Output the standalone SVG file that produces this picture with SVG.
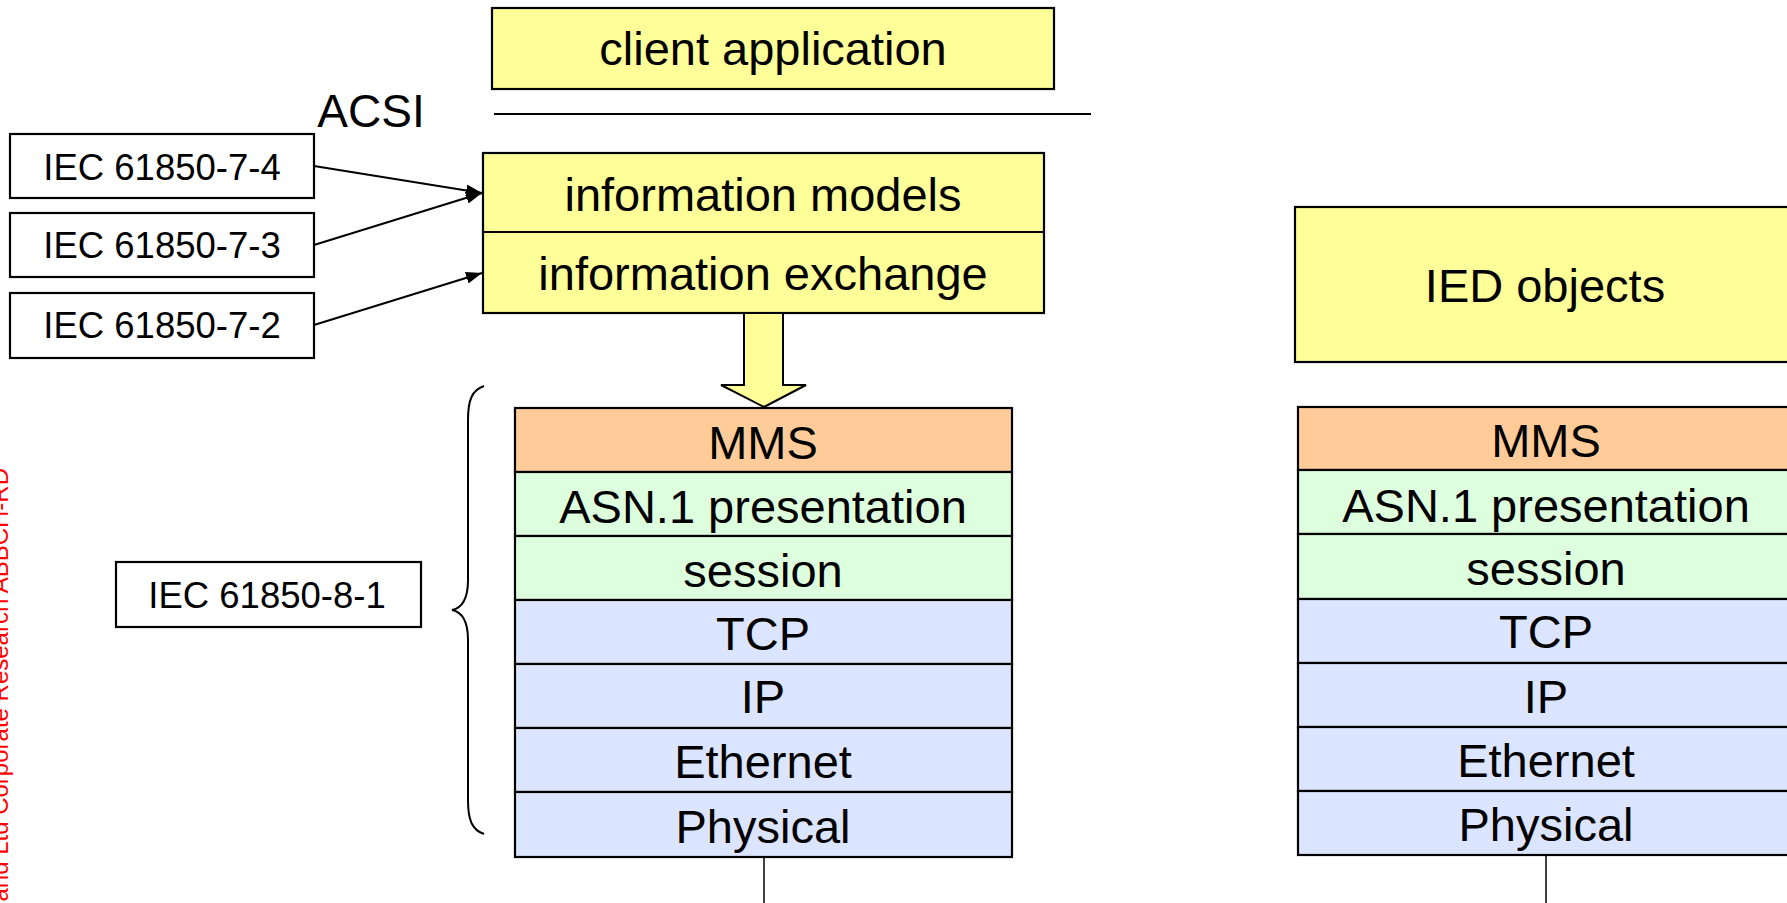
<svg xmlns="http://www.w3.org/2000/svg" width="1787" height="903" viewBox="0 0 1787 903">
<style>
  .t{font-family:"Liberation Sans",Arial,sans-serif;fill:#000;text-anchor:middle}
  .big{font-size:47px}
  .sm{font-size:36.5px}
  .box{stroke:#000;stroke-width:2.2}
  .y{fill:#FFFF99}
  .o{fill:#FFCC99}
  .g{fill:#DDFFDD}
  .b{fill:#DCE5FF}
  .w{fill:#fff}
  .ln{stroke:#000;stroke-width:2;fill:none}
</style>
<defs>
  <marker id="ah" viewBox="0 0 16 12" refX="16" refY="6" markerWidth="16" markerHeight="12" markerUnits="userSpaceOnUse" orient="auto">
    <path d="M0,0 L16,6 L0,12 Z" fill="#000"/>
  </marker>
</defs>
<rect width="1787" height="903" fill="#fff"/>

<text x="8" y="468" transform="rotate(-90 8 468)" style="font-family:'Liberation Sans',Arial,sans-serif;font-size:24px;fill:#FF0000;text-anchor:end">and Ltd Corporate Research ABBCH-RD</text>

<g id="client">
  <rect class="box y" x="492" y="8" width="562" height="81"/>
  <text class="t big" x="773" y="65">client application</text>
</g>
<g id="acsi">
  <line class="ln" x1="494" y1="114" x2="1091" y2="114"/>
  <text class="t" x="371" y="127" font-size="46">ACSI</text>
</g>
<g id="info">
  <rect class="box y" x="483" y="153" width="561" height="160"/>
  <line class="ln" x1="483" y1="232" x2="1044" y2="232"/>
  <text class="t big" x="763" y="211">information models</text>
  <text class="t big" x="763" y="290">information exchange</text>
</g>
<g id="iec74">
  <rect class="box w" x="10" y="134" width="304" height="64"/>
  <text class="t sm" x="162" y="180">IEC 61850-7-4</text>
</g>
<g id="iec73">
  <rect class="box w" x="10" y="213" width="304" height="64"/>
  <text class="t sm" x="162" y="258">IEC 61850-7-3</text>
</g>
<g id="iec72">
  <rect class="box w" x="10" y="293" width="304" height="65"/>
  <text class="t sm" x="162" y="338">IEC 61850-7-2</text>
</g>
<g id="iec81">
  <rect class="box w" x="116" y="562" width="305" height="65"/>
  <text class="t sm" x="267" y="608">IEC 61850-8-1</text>
</g>

<g id="connectors">
  <line class="ln" x1="314" y1="166" x2="482" y2="193" marker-end="url(#ah)"/>
  <line class="ln" x1="314" y1="245" x2="482" y2="193" marker-end="url(#ah)"/>
  <line class="ln" x1="314" y1="325" x2="482" y2="273" marker-end="url(#ah)"/>
  <polygon points="744,313 783,313 783,385 806,385 764,407 721,385 744,385" fill="#FFFF99" stroke="#000" stroke-width="2"/>
  <path class="ln" d="M484,386 C472,390 468,400 468,420 L468,580 C468,600 462,608 452,610 C462,612 468,620 468,640 L468,800 C468,820 472,830 484,834"/>
  <line x1="764" y1="857" x2="764" y2="903" stroke="#000" stroke-width="1.5"/>
  <line x1="1546" y1="855" x2="1546" y2="903" stroke="#000" stroke-width="1.5"/>
</g>

<g id="stack-client">
  <rect class="box o" x="515" y="408" width="497" height="64"/>
  <rect class="box g" x="515" y="472" width="497" height="64"/>
  <rect class="box g" x="515" y="536" width="497" height="64"/>
  <rect class="box b" x="515" y="600" width="497" height="64"/>
  <rect class="box b" x="515" y="664" width="497" height="64"/>
  <rect class="box b" x="515" y="728" width="497" height="64"/>
  <rect class="box b" x="515" y="792" width="497" height="65"/>
  <text class="t big" x="763" y="459">MMS</text>
  <text class="t big" x="763" y="523">ASN.1 presentation</text>
  <text class="t big" x="763" y="587">session</text>
  <text class="t big" x="763" y="650">TCP</text>
  <text class="t big" x="763" y="713">IP</text>
  <text class="t big" x="763" y="778">Ethernet</text>
  <text class="t big" x="763" y="843">Physical</text>
</g>

<g id="ied">
  <rect class="box y" x="1295" y="207" width="500" height="155"/>
  <text class="t big" x="1545" y="302">IED objects</text>
</g>

<g id="stack-ied">
  <rect class="box o" x="1298" y="407" width="500" height="63"/>
  <rect class="box g" x="1298" y="470" width="500" height="64"/>
  <rect class="box g" x="1298" y="534" width="500" height="65"/>
  <rect class="box b" x="1298" y="599" width="500" height="64"/>
  <rect class="box b" x="1298" y="663" width="500" height="64"/>
  <rect class="box b" x="1298" y="727" width="500" height="64"/>
  <rect class="box b" x="1298" y="791" width="500" height="64"/>
  <text class="t big" x="1546" y="457">MMS</text>
  <text class="t big" x="1546" y="522">ASN.1 presentation</text>
  <text class="t big" x="1546" y="585">session</text>
  <text class="t big" x="1546" y="648">TCP</text>
  <text class="t big" x="1546" y="713">IP</text>
  <text class="t big" x="1546" y="777">Ethernet</text>
  <text class="t big" x="1546" y="841">Physical</text>
</g>
</svg>
